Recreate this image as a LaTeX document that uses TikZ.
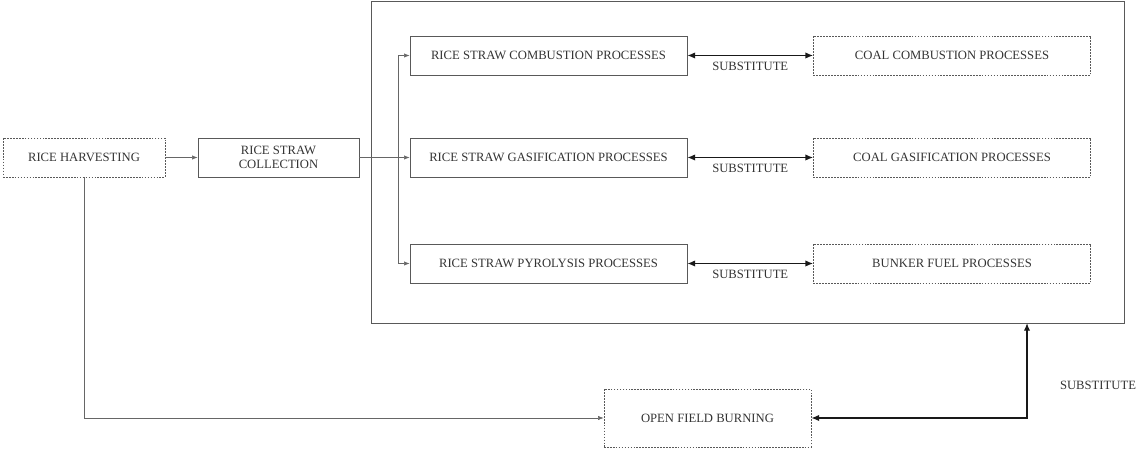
\documentclass[tikz,border=0pt]{standalone}
\usepackage{fontspec}
\setmainfont{Liberation Serif}
\usetikzlibrary{positioning,arrows.meta}
\tikzset{
  box/.style={draw=black!65, text=black!80, align=center, font=\fontsize{9}{10}\selectfont,
    minimum width=6.925cm, minimum height=0.975cm, inner sep=1pt},
  dotbox/.style={box, dash pattern=on 1.2pt off 0.9pt},
  thinarrow/.style={draw=black!60, -{Latex[length=4pt,width=3pt]}},
  subarrow/.style={draw=black!90, line width=1pt, {Latex[length=5.5pt,width=4.5pt]}-{Latex[length=5.5pt,width=4.5pt]}},
  sublabel/.style={text=black!80, font=\fontsize{9}{10}\selectfont}
}
\begin{document}
\begin{tikzpicture}[x=0.025cm,y=-0.025cm]
  \useasboundingbox (0,0) rectangle (1137,451);
  \draw[draw=black!65] (371,1) rectangle (1124,323);
  \node[dotbox, minimum width=4.05cm] (harvest) at (84,157.5) {RICE HARVESTING};
  \node[box, minimum width=4.025cm] (collect) at (278.5,157.5) {RICE STRAW\\COLLECTION};
  \node[box] (rcomb) at (548.5,55.5) {RICE STRAW COMBUSTION PROCESSES};
  \node[box] (rgas) at (548.5,157.5) {RICE STRAW GASIFICATION PROCESSES};
  \node[box] (rpyro) at (548.5,263.5) {RICE STRAW PYROLYSIS PROCESSES};
  \node[dotbox] (ccomb) at (952,55.5) {COAL COMBUSTION PROCESSES};
  \node[dotbox] (cgas) at (952,157.5) {COAL GASIFICATION PROCESSES};
  \node[dotbox] (bunker) at (952,263.5) {BUNKER FUEL PROCESSES};
  \node[dotbox, minimum width=5.175cm, minimum height=1.45cm] (burn) at (707.5,418) {OPEN FIELD BURNING};
  \coordinate (split) at (398,157.5);
  \draw[thinarrow] (harvest) -- (collect);
  \draw[thinarrow] (collect) -- (rgas);
  \draw[thinarrow] (split) |- (rcomb);
  \draw[thinarrow] (split) |- (rpyro);
  \draw[thinarrow] (harvest.south) |- (burn);
  \draw[subarrow] (rcomb) -- node[sublabel, below=1pt] {SUBSTITUTE} (ccomb);
  \draw[subarrow] (rgas) -- node[sublabel, below=1pt] {SUBSTITUTE} (cgas);
  \draw[subarrow] (rpyro) -- node[sublabel, below=1pt] {SUBSTITUTE} (bunker);
  \draw[subarrow] (burn) -| (1027,323);
  \node[sublabel] (sublast) at (1098,385) {SUBSTITUTE};
\end{tikzpicture}
\end{document}
